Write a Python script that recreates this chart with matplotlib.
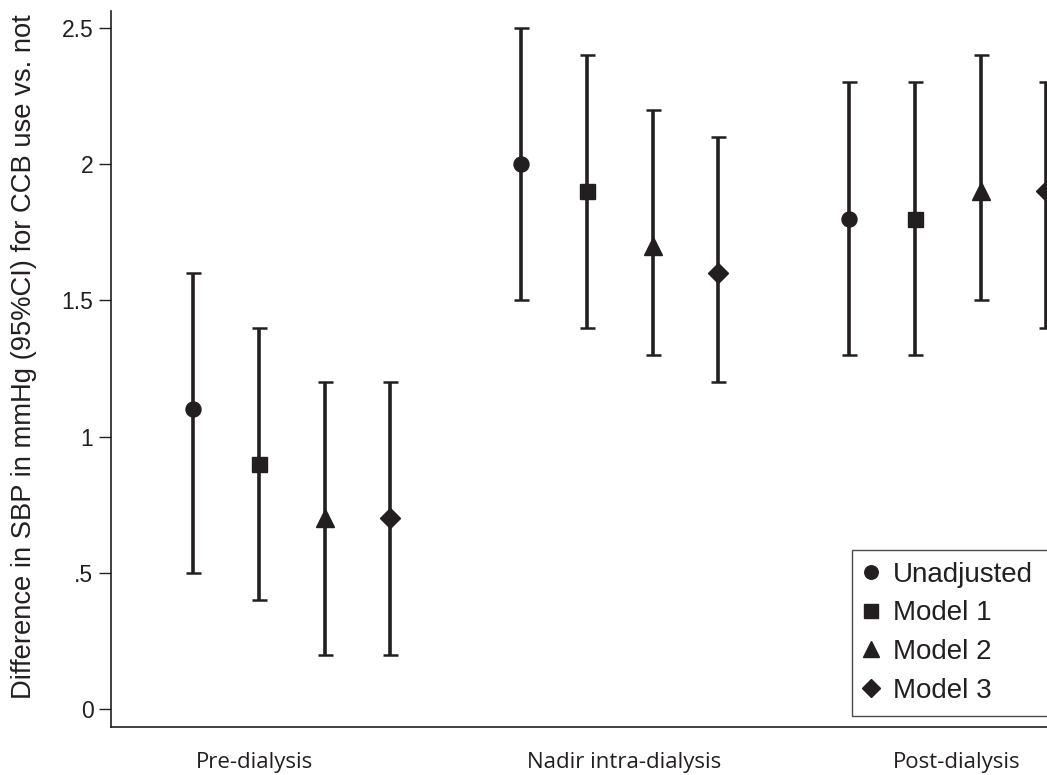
import matplotlib
matplotlib.use("Agg")
import matplotlib.pyplot as plt
from matplotlib.lines import Line2D

# data
groups = ["Pre-dialysis", "Nadir intra-dialysis", "Post-dialysis"]
models = ["Unadjusted", "Model 1", "Model 2", "Model 3"]
markers = ["o", "s", "^", "D"]
msizes = [10.8, 10.8, 12.5, 10.2]

est = [
    [1.1, 0.9, 0.7, 0.7],
    [2.0, 1.9, 1.7, 1.6],
    [1.8, 1.8, 1.9, 1.9],
]
lo = [
    [0.5, 0.4, 0.2, 0.2],
    [1.5, 1.4, 1.3, 1.2],
    [1.3, 1.3, 1.5, 1.4],
]
hi = [
    [1.6, 1.4, 1.2, 1.2],
    [2.5, 2.4, 2.2, 2.1],
    [2.3, 2.3, 2.4, 2.3],
]

ink = "#231f20"

fig = plt.figure(figsize=(10.47, 7.75), dpi=100)
# axes run past the right edge, like the cropped original
ax = fig.add_axes([111 / 1047, 48 / 775, 1000.7 / 1047, 716 / 775])

for g in range(3):
    for m in range(4):
        x = g * 5 + m
        ax.errorbar([x], [est[g][m]],
                    yerr=[[est[g][m] - lo[g][m]], [hi[g][m] - est[g][m]]],
                    fmt=markers[m], color=ink, ms=msizes[m],
                    elinewidth=2.6, capsize=5.4, capthick=1.8)

ax.set_xlim(-1.255, 14)
ax.set_ylim(-0.066, 2.562)

ax.set_yticks([0, 0.5, 1, 1.5, 2, 2.5])
ax.set_yticklabels(["0", ".5", "1", "1.5", "2", "2.5"],
                   fontsize=16.5, family=["Liberation Sans", "DejaVu Sans"])
ax.tick_params(axis="y", length=8.6, width=1, color=ink, pad=4, labelcolor=ink)

ax.set_xticks([0.94, 6.56, 11.64])
ax.set_xticklabels(groups, fontsize=16, family=["Open Sans", "DejaVu Sans"])
ax.tick_params(axis="x", length=0, pad=18, labelcolor=ink)

for s in ["top", "right"]:
    ax.spines[s].set_visible(False)
for s in ["left", "bottom"]:
    ax.spines[s].set_color(ink)
    ax.spines[s].set_linewidth(1.2)

ax.set_ylabel("Difference in SBP in mmHg (95%CI) for CCB use vs. not",
              fontsize=19.7, family=["Liberation Sans", "DejaVu Sans"],
              color=ink)
ax.yaxis.set_label_coords(-0.074, 0.517)

handles = [Line2D([], [], marker=mk, linestyle="none", color=ink, ms=ms * 0.9)
           for mk, ms in zip(markers, msizes)]
leg = fig.legend(handles, models, loc="lower left",
                 bbox_to_anchor=(852 / 1047, 59 / 775, 0.25, 0.2),
                 mode="expand", frameon=True, fancybox=False,
                 prop={"family": ["Liberation Sans", "DejaVu Sans"], "size": 20},
                 handlelength=0.5, handletextpad=0.52, labelspacing=0.45,
                 borderpad=0.45, borderaxespad=0)
leg.get_frame().set_edgecolor(ink)
leg.get_frame().set_linewidth(1.0)
for t in leg.get_texts():
    t.set_color(ink)

fig.savefig("out.png", dpi=100)
